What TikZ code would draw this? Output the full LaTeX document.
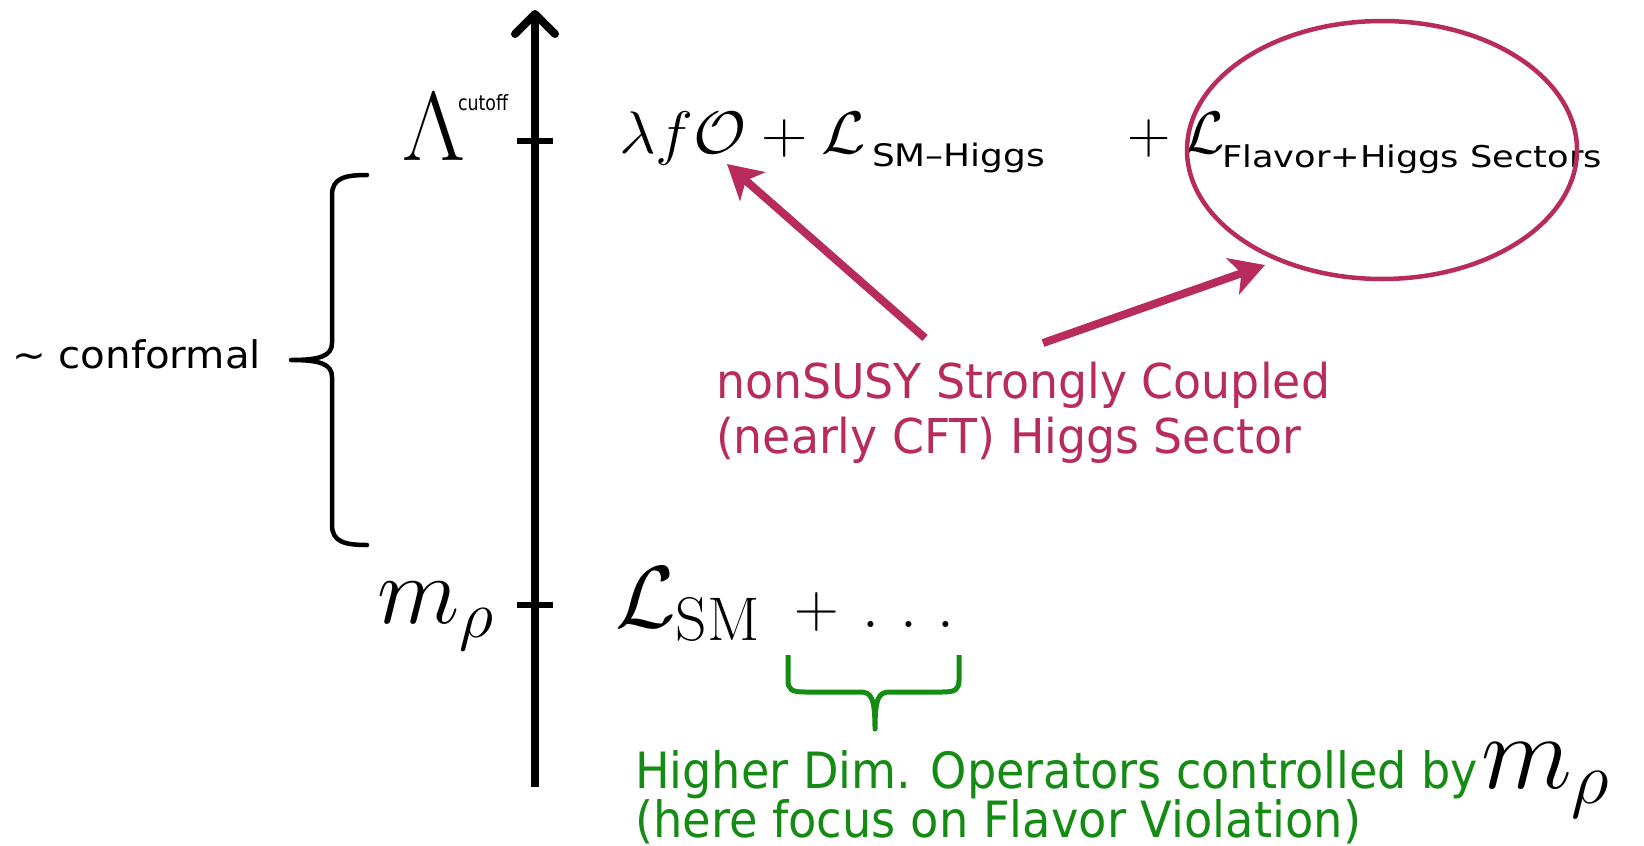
\RequirePackage{fix-cm}
\documentclass[tikz,border=0pt]{standalone}
\usepackage{fontspec}
\usepackage{graphicx}
\usetikzlibrary{arrows.meta,shapes.geometric}
\newfontfamily\lab{DejaVu Sans}
\definecolor{pinkc}{RGB}{183,43,93}
\definecolor{greenc}{RGB}{20,140,20}
\newcommand\fitw[2]{\resizebox{#1}{\height}{#2}}
\newcommand\fs[1]{\fontsize{#1}{#1}\selectfont}
\tikzset{
  txt/.style={inner sep=0pt, outer sep=0pt, anchor=base west},
  tickline/.style={line width=6pt},
  pinkarrow/.style={pinkc, line width=8pt, -{Stealth[length=34pt,width=38pt,inset=9pt]}},
}
\begin{document}
\begin{tikzpicture}[x=1pt,y=-1pt]
\useasboundingbox (0,0) rectangle (1644,846);
% axis
\coordinate (axb) at (535,787);
\coordinate (axt) at (535,10);
\draw[line width=8pt, -{Straight Barb[length=20pt,width=40pt,line cap=round,line join=round]}] (axb) -- (axt);
% ticks
\coordinate (t1a) at (517,141); \coordinate (t1b) at (553,141);
\coordinate (t2a) at (517,605); \coordinate (t2b) at (553,605);
\draw[tickline] (t1a) -- (t1b);
\draw[tickline] (t2a) -- (t2b);
% Lambda cutoff
\node[txt] (lam) at (402,160) {\fs{98}$\Lambda$};
\node[txt] (cut) at (458,110) {\fitw{50pt}{\lab\fs{21}cutoff}};
% top formula
\node[txt] (f1) at (619,153) {\fitw{247pt}{\fs{60}$\lambda f\mathcal{O}+\mathcal{L}$}};
\node[txt] (f1s) at (872,166) {\fitw{173pt}{\lab\fs{31}SM\textendash Higgs}};
\node[txt] (f2) at (1114,153) {\fs{60}${}+\mathcal{L}$};
\node[txt] (f2s) at (1222,167) {\fitw{380pt}{\lab\fs{30}Flavor+Higgs Sectors}};
% ellipse
\node[draw=pinkc, line width=4.5pt, ellipse, minimum width=390pt, minimum height=258pt, inner sep=0pt] (ell) at (1382,150) {};
% pink text
\node[txt, pinkc] (p1) at (716,398) {\fitw{614pt}{\lab\fs{48}nonSUSY Strongly Coupled}};
\node[txt, pinkc] (p2) at (716,453) {\fitw{585pt}{\lab\fs{48}(nearly CFT) Higgs Sector}};
\coordinate (a1s) at (925,338); \coordinate (a1e) at (727,164);
\coordinate (a2s) at (1043,343); \coordinate (a2e) at (1265,265);
\draw[pinkarrow] (a1s) -- (a1e);
\draw[pinkarrow] (a2s) -- (a2e);
% conformal brace
\node[txt] (conf) at (12,368) {\fitw{249pt}{\lab\fs{38}\textasciitilde{} conformal}};
\coordinate (b1) at (367,175); \coordinate (btip) at (291,360); \coordinate (b2) at (367,545);
\draw[line width=4.5pt, line cap=round, line join=round]
  (b1) .. controls (345,175) and (332,178) .. (332,195) -- (332,343)
  .. controls (332,356) and (320,360) .. (btip)
  .. controls (320,360) and (332,364) .. (332,377) -- (332,525)
  .. controls (332,542) and (345,545) .. (b2);
% m_rho
\node[txt] (mr) at (377,623) {\fs{96}$m_\rho$};
\node[txt] (lsm) at (615,627) {\fs{88}$\mathcal{L}_{\mathrm{SM}}$};
\node[txt] (plus) at (794,627) {\fs{62}$+\mskip7mu.\mskip6mu.\mskip6mu.$};
% green brace
\coordinate (g1) at (788,655); \coordinate (gtip) at (875,729); \coordinate (g2) at (959,655);
\draw[greenc, line width=5pt, line join=round]
  (g1) -- (788,680) .. controls (788,690) and (792,692) .. (805,692) -- (860,692)
  .. controls (871,692) and (875,697) .. (gtip)
  .. controls (875,697) and (879,692) .. (890,692) -- (942,692)
  .. controls (955,692) and (959,690) .. (959,680) -- (g2);
% green text
\node[txt, greenc] (h1) at (635,788) {\fitw{843pt}{\lab\fs{50}Higher Dim. Operators controlled by}};
\node[txt, greenc] (h2) at (635,837) {\fitw{726pt}{\lab\fs{50}(here focus on Flavor Violation)}};
\node[txt] (mr2) at (1481,788) {\fs{106}$m_\rho$};
\end{tikzpicture}
\end{document}
